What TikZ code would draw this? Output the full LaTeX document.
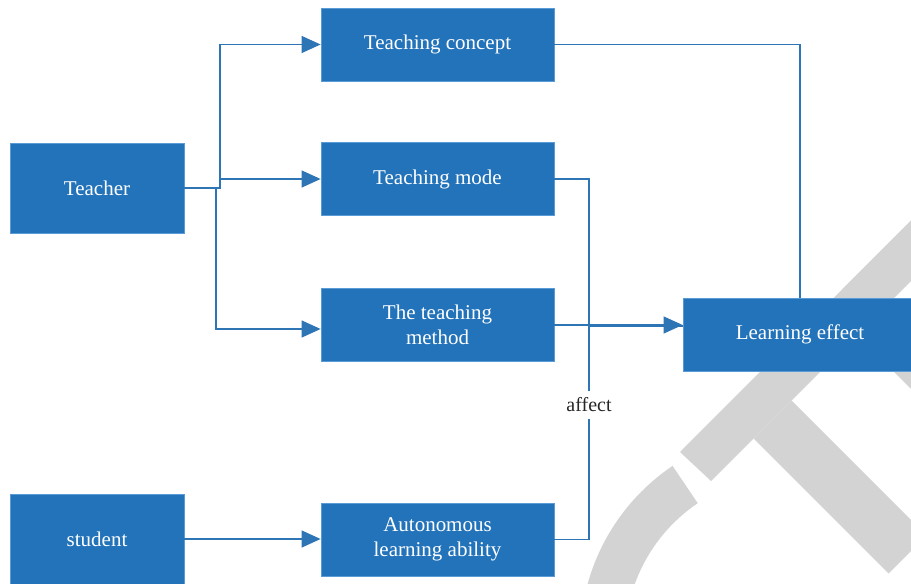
\documentclass[tikz,border=0pt]{standalone}
\usepackage{fontspec}
\setmainfont{Liberation Serif}
\usetikzlibrary{arrows.meta,calc}
\definecolor{boxblue}{HTML}{2373BA}
\definecolor{boxedge}{HTML}{5B9BD5}
\definecolor{lineblue}{HTML}{2E75B6}
\definecolor{wmgray}{HTML}{D3D3D3}
\begin{document}
\begin{tikzpicture}[x=1pt,y=1pt,
  box/.style={draw=boxedge, line width=0.8pt, fill=boxblue, text=white, inner sep=0pt, align=center, font=\fontsize{21}{25.5}\selectfont},
  smallbox/.style={box, minimum width=174pt, minimum height=90pt},
  widebox/.style={box, minimum width=233pt, minimum height=73pt},
  conn/.style={draw=lineblue, line width=1.3pt},
  arr/.style={conn, -{Triangle[length=19pt,width=17pt]}},
  wm/.style={fill=wmgray}]
\useasboundingbox (0,0) rectangle (911,584);
\clip (0,0) rectangle (911,584);
% watermark
\fill[wm] (680,132) -- (711,103) -- (1000,392) -- (1000,453) -- cycle;
\fill[wm] (753.5,145.5) -- (888.5,10.5) -- (926.5,48.5) -- (791.5,183.5) -- cycle;
\fill[wm] (862,244) -- (1000,106) -- (1000,244) -- cycle;
\fill[wm] ($(790,-56)+(124:210pt)$) arc[start angle=124,end angle=200,radius=210pt] -- ($(790,-56)+(200:165pt)$) arc[start angle=200,end angle=124,radius=165pt] -- cycle;
% nodes
\node[smallbox] (teacher) at (97,396) {Teacher};
\node[smallbox] (student) at (97,45) {student};
\node[widebox] (concept) at (437.5,539.5) {Teaching concept};
\node[widebox] (mode) at (437.5,405) {Teaching mode};
\node[widebox] (method) at (437.5,259) {The teaching\\method};
\node[widebox] (auto) at (437.5,44.5) {Autonomous\\learning ability};
\node[box, minimum width=234pt, minimum height=73pt] (effect) at (800,249.5) {Learning effect};
% junctions
\coordinate (j1) at (220,396);
\coordinate (j2) at (216,396);
\coordinate (jm) at (589,258);
% connectors
\draw[arr] (teacher.east) -- (j1) |- (concept.west);
\draw[arr] (j1 |- mode.west) -- (mode.west);
\draw[arr] (j2) |- ([yshift=-4pt]method.west);
\draw[arr] (student.east) -- (student.east -| auto.west);
\draw[conn] (concept.east) -| (effect.north);
\draw[conn] (mode.east) -| (jm);
\draw[conn] (auto.east) -| (jm) -- (jm -| effect.west);
\draw[arr] (method.east) -- (method.east -| effect.west);
\node[fill=white, inner xsep=2pt, inner ysep=7pt, font=\fontsize{20}{24}\selectfont, text=black!85] (aff) at (589,179) {affect};
\end{tikzpicture}
\end{document}
